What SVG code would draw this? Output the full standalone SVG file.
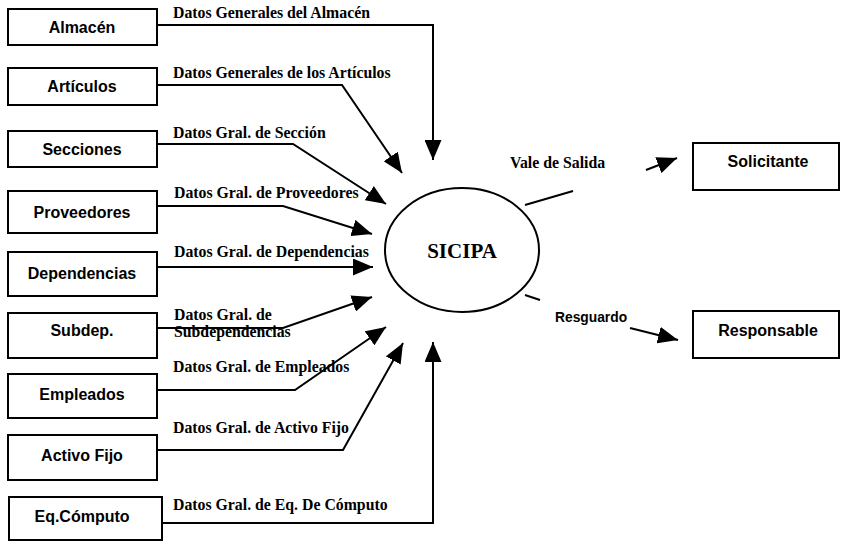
<svg xmlns="http://www.w3.org/2000/svg" width="842" height="542" viewBox="0 0 842 542">
  <style>
    .box { fill: #fff; stroke: #000; stroke-width: 2; }
    .blabel { font-family: "Liberation Sans", Arial, sans-serif; font-weight: bold; font-size: 16px; text-anchor: middle; fill: #000; }
    .flow { fill: none; stroke: #000; stroke-width: 2; }
    .flabel { font-family: "Liberation Serif", "Times New Roman", serif; font-weight: bold; font-size: 15.8px; fill: #000; }
    .proc { fill: #fff; stroke: #000; stroke-width: 2; }
    .ptext { font-family: "Liberation Serif", "Times New Roman", serif; font-weight: bold; font-size: 21px; text-anchor: middle; fill: #000; }
  </style>
  <defs>
    <marker id="arrow" markerUnits="userSpaceOnUse" markerWidth="20" markerHeight="17" refX="20" refY="8.5" orient="auto">
      <path d="M0,0 L20,8.5 L0,17 z" fill="#000"/>
    </marker>
  </defs>
  <rect width="842" height="542" fill="#fff"/>

  <!-- external entities (sources) -->
  <g id="almacen"><rect class="box" x="8" y="9" width="149" height="36"/><text class="blabel" x="82" y="33">Almacén</text></g>
  <g id="articulos"><rect class="box" x="8" y="68" width="149" height="37"/><text class="blabel" x="82" y="92">Artículos</text></g>
  <g id="secciones"><rect class="box" x="8" y="131" width="149" height="36"/><text class="blabel" x="82" y="155">Secciones</text></g>
  <g id="proveedores"><rect class="box" x="8" y="191" width="149" height="42"/><text class="blabel" x="82" y="218">Proveedores</text></g>
  <g id="dependencias"><rect class="box" x="8" y="252" width="149" height="44"/><text class="blabel" x="82" y="279">Dependencias</text></g>
  <g id="subdep"><rect class="box" x="8" y="313" width="149" height="45"/><text class="blabel" x="82" y="336">Subdep.</text></g>
  <g id="empleados"><rect class="box" x="8" y="374" width="149" height="44"/><text class="blabel" x="82" y="400">Empleados</text></g>
  <g id="activo-fijo"><rect class="box" x="8" y="435" width="149" height="45"/><text class="blabel" x="82" y="461">Activo Fijo</text></g>
  <g id="eq-computo"><rect class="box" x="9" y="497" width="153" height="43"/><text class="blabel" x="82" y="522">Eq.Cómputo</text></g>

  <!-- external entities (destinations) -->
  <g id="solicitante"><rect class="box" x="693" y="143" width="146" height="47"/><text class="blabel" x="768" y="167">Solicitante</text></g>
  <g id="responsable"><rect class="box" x="693" y="311" width="146" height="47"/><text class="blabel" x="768" y="336">Responsable</text></g>

  <!-- central process -->
  <g id="sicipa"><ellipse class="proc" cx="462" cy="250" rx="77" ry="62"/><text class="ptext" x="462" y="258">SICIPA</text></g>

  <!-- data flows -->
  <g id="flows">
    <path class="flow" d="M157,25 H433 V160" marker-end="url(#arrow)"/>
    <path class="flow" d="M157,85 H342 L402,173" marker-end="url(#arrow)"/>
    <path class="flow" d="M157,144 H293 L386,204" marker-end="url(#arrow)"/>
    <path class="flow" d="M157,206 H283 L372,234" marker-end="url(#arrow)"/>
    <path class="flow" d="M157,267 H373" marker-end="url(#arrow)"/>
    <path class="flow" d="M157,328 H283 L372,297" marker-end="url(#arrow)"/>
    <path class="flow" d="M157,390 H295 L386,327" marker-end="url(#arrow)"/>
    <path class="flow" d="M157,450 H343 L403,343" marker-end="url(#arrow)"/>
    <path class="flow" d="M162,523 H433 V342" marker-end="url(#arrow)"/>

    <path class="flow" d="M525,205 L573,191"/>
    <path class="flow" d="M646,170 L677,158" marker-end="url(#arrow)"/>
    <path class="flow" d="M525,295 L540,300"/>
    <path class="flow" d="M630,328 L678,340" marker-end="url(#arrow)"/>
  </g>

  <!-- flow labels -->
  <g id="flow-labels">
    <text class="flabel" x="173" y="18">Datos Generales del Almacén</text>
    <text class="flabel" x="173" y="78">Datos Generales de los Artículos</text>
    <text class="flabel" x="173" y="138">Datos Gral. de Sección</text>
    <text class="flabel" x="174" y="198">Datos Gral. de Proveedores</text>
    <text class="flabel" x="174" y="257">Datos Gral. de Dependencias</text>
    <text class="flabel" x="174" y="320">Datos Gral. de</text>
    <text class="flabel" x="174" y="337">Subdependencias</text>
    <text class="flabel" x="173" y="372">Datos Gral. de Empleados</text>
    <text class="flabel" x="173" y="433">Datos Gral. de Activo Fijo</text>
    <text class="flabel" x="173" y="510">Datos Gral. de Eq. De Cómputo</text>
    <text class="flabel" x="510" y="168">Vale de Salida</text>
    <text x="555" y="322" font-family="Liberation Sans, Arial, sans-serif" font-weight="bold" font-size="13.8" fill="#000">Resguardo</text>
  </g>
</svg>
